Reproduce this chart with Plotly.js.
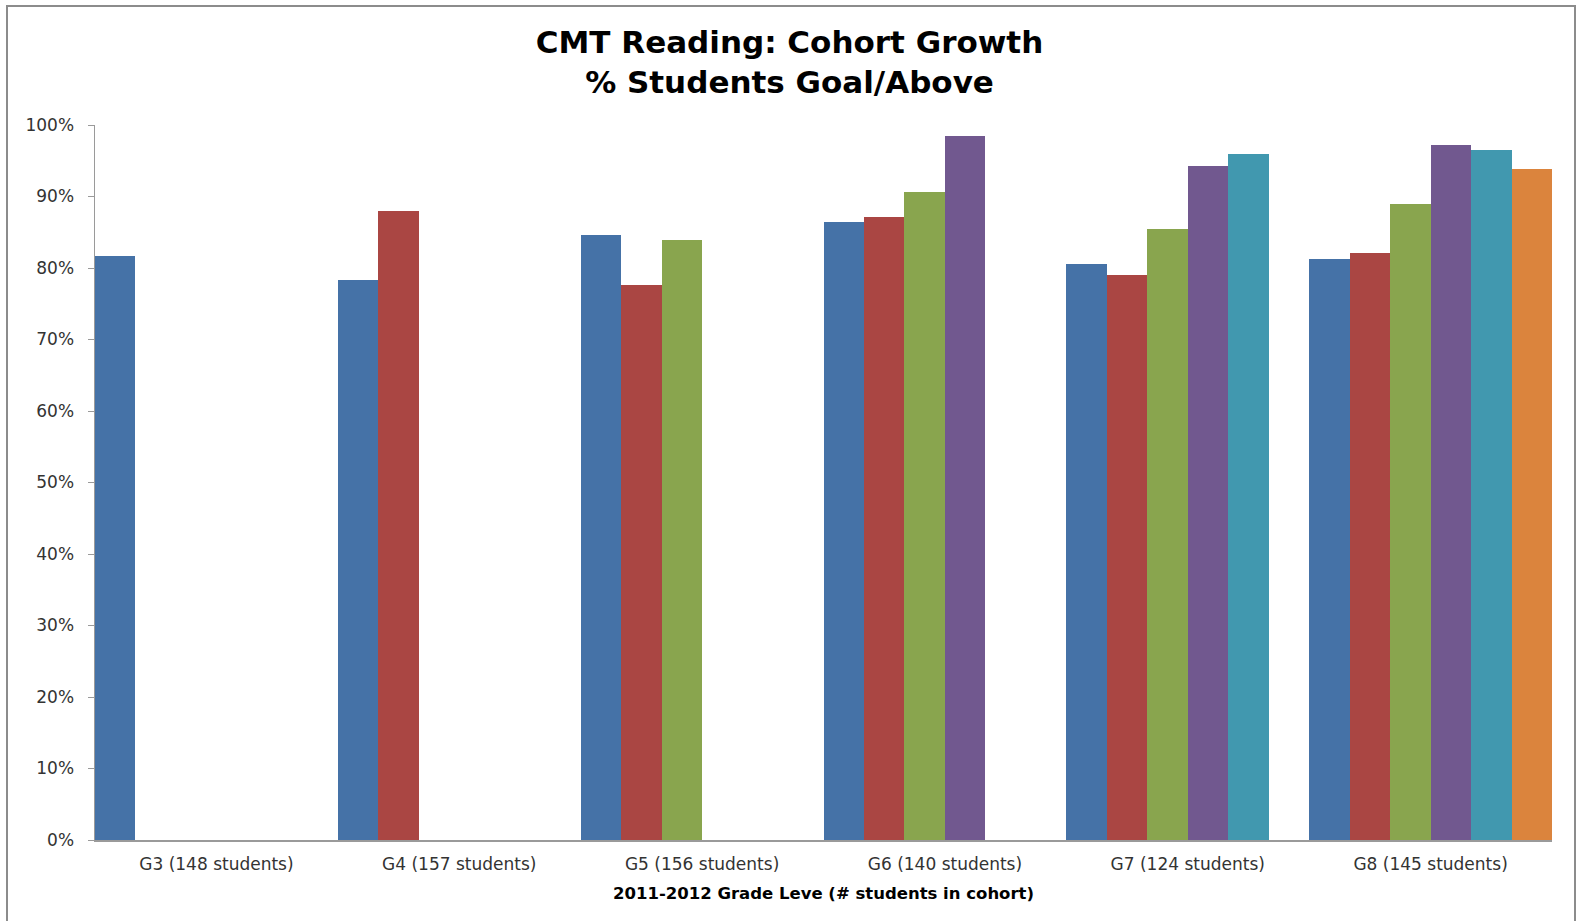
<!DOCTYPE html>
<html>
<head>
<meta charset="utf-8">
<script src="https://cdn.plot.ly/plotly-3.0.1.min.js"></script>
<style>
  html, body { margin: 0; padding: 0; background: #fff; }
  #wrap { position: relative; width: 1579px; height: 921px; }
  #chart { position: absolute; left: 0; top: 0; width: 1579px; height: 921px; }
  #frame { position: absolute; left: 6px; top: 5px; width: 1566px; height: 930px;
           border: 2px solid #8c8c8c; pointer-events: none; }
</style>
</head>
<body>
<div id="wrap">
  <div id="chart"></div>
  <div id="frame"></div>
</div>
<script>
// ---- data ----
const categories = ["G3 (148 students)", "G4 (157 students)", "G5 (156 students)",
                    "G6 (140 students)", "G7 (124 students)", "G8 (145 students)"];
const seriesNames = ["Year 1", "Year 2", "Year 3", "Year 4", "Year 5", "Year 6"];
const year1 = [0.817, 0.783, 0.846, 0.864, 0.806, 0.813];
const year2 = [null, 0.880, 0.776, 0.871, 0.790, 0.821];
const year3 = [null, null, 0.839, 0.907, 0.855, 0.889];
const year4 = [null, null, null, 0.985, 0.942, 0.972];
const year5 = [null, null, null, null, 0.959, 0.965];
const year6 = [null, null, null, null, null, 0.938];
const yTickVals = [0, 0.1, 0.2, 0.3, 0.4, 0.5, 0.6, 0.7, 0.8, 0.9, 1.0];
const yTickText = ["0%", "10%", "20%", "30%", "40%", "50%", "60%", "70%", "80%", "90%", "100%"];
const colors = ["#4572A7", "#AA4643", "#89A54E", "#71588F", "#4198AF", "#DB843D"];

const allSeries = [year1, year2, year3, year4, year5, year6];
const traces = allSeries.map((vals, i) => ({
  type: "bar",
  name: seriesNames[i],
  x: categories,
  y: vals,
  marker: { color: colors[i], line: { width: 0 } },
  hoverinfo: "x+y+name"
}));

const layout = {
  width: 1579,
  height: 921,
  margin: { l: 95, r: 26.5, t: 125, b: 81 },
  paper_bgcolor: "#ffffff",
  plot_bgcolor: "#ffffff",
  showlegend: false,
  barmode: "group",
  bargap: 0,
  bargroupgap: 0,
  font: { family: "DejaVu Sans, sans-serif", color: "#333333" },
  title: {
    text: "CMT Reading: Cohort Growth<br>% Students Goal/Above",
    font: { family: "DejaVu Sans, sans-serif", size: 31, color: "#000000", weight: "bold" },
    x: 0.5, xref: "container", xanchor: "center",
    y: 1 - 53 / 921, yref: "container", yanchor: "top"
  },
  xaxis: {
    type: "category",
    showline: true,
    linecolor: "#9a9a9a",
    linewidth: 1.5,
    ticks: "",
    showgrid: false,
    zeroline: false,
    tickfont: { size: 17, color: "#333333" },
    ticklabelstandoff: 8,
    title: {
      text: "<b>2011-2012 Grade Leve (# students in cohort)</b>",
      font: { size: 16.5, color: "#000000" },
      standoff: 14
    }
  },
  yaxis: {
    range: [0, 1],
    tickvals: yTickVals,
    ticktext: yTickText,
    showline: true,
    linecolor: "#9a9a9a",
    linewidth: 1.5,
    ticks: "outside",
    ticklen: 6,
    tickcolor: "#9a9a9a",
    showgrid: false,
    zeroline: false,
    tickfont: { size: 17, color: "#333333" },
    ticklabelstandoff: 10
  }
};

Plotly.newPlot("chart", traces, layout, { displayModeBar: false, staticPlot: true });
</script>
</body>
</html>
